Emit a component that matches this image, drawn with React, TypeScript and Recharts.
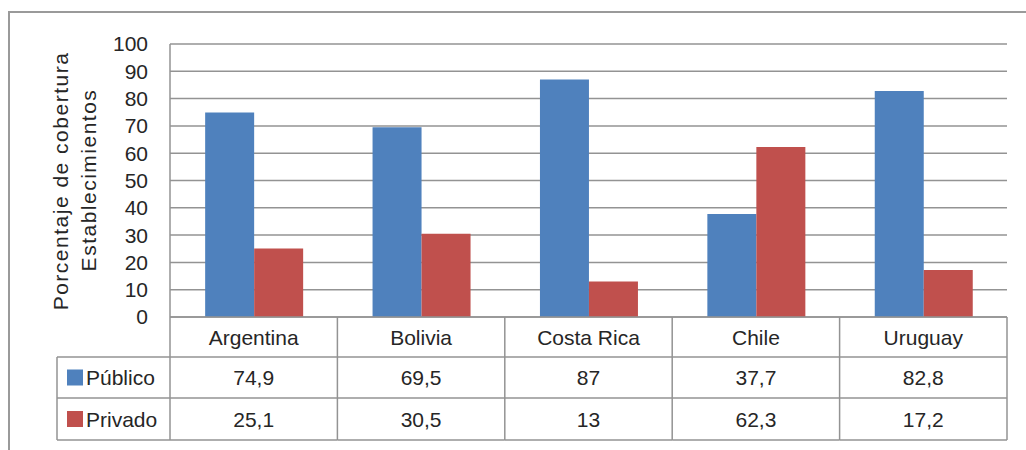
import React from "react";
import { BarChart, Bar, XAxis, YAxis, CartesianGrid } from "recharts";

const categories = ["Argentina", "Bolivia", "Costa Rica", "Chile", "Uruguay"];
const publico = [74.9, 69.5, 87, 37.7, 82.8];
const privado = [25.1, 30.5, 13, 62.3, 17.2];
const yTicks = [0, 10, 20, 30, 40, 50, 60, 70, 80, 90, 100];

const BLUE = "#4F81BD";
const RED = "#C0504D";
const LINE = "#939393";
const TEXT = "#262626";
const FONT = "'Liberation Sans', Arial, sans-serif";
const FS = 21;

const W = 1026;
const H = 450;
const PLOT_LEFT = 170;
const PLOT_RIGHT = 1007;
const COL_W = (PLOT_RIGHT - PLOT_LEFT) / categories.length;
const ROW = [0, 40, 81, 123];

const data = categories.map((name, i) => ({ name, publico: publico[i], privado: privado[i] }));

const fmt = (v: number) => String(v).replace(".", ",");

function TableTick(props: any) {
  const { x, y, index, payload } = props;
  const left = x - COL_W / 2;
  const right = x + COL_W / 2;
  const mid = (a: number, b: number) => y + (ROW[a] + ROW[b]) / 2;
  const textProps = {
    fontSize: FS,
    fontFamily: FONT,
    fill: TEXT,
    textAnchor: "middle" as const,
    dominantBaseline: "central" as const,
  };
  return (
    <g>
      <line x1={right} y1={y} x2={right} y2={y + ROW[3]} stroke={LINE} strokeWidth={1.5} />
      {[1, 2, 3].map((r) => (
        <line key={r} x1={left} y1={y + ROW[r]} x2={right} y2={y + ROW[r]} stroke={LINE} strokeWidth={1.5} />
      ))}
      <text x={x} y={mid(0, 1)} {...textProps}>{payload.value}</text>
      <text x={x} y={mid(1, 2)} {...textProps}>{fmt(publico[index])}</text>
      <text x={x} y={mid(2, 3)} {...textProps}>{fmt(privado[index])}</text>
      {index === 0 && (
        <g>
          <line x1={left} y1={y} x2={left} y2={y + ROW[3]} stroke={LINE} strokeWidth={1.5} />
          <line x1={57} y1={y + ROW[1]} x2={left} y2={y + ROW[1]} stroke={LINE} strokeWidth={1.5} />
          <line x1={57} y1={y + ROW[2]} x2={left} y2={y + ROW[2]} stroke={LINE} strokeWidth={1.5} />
          <line x1={57} y1={y + ROW[3]} x2={left} y2={y + ROW[3]} stroke={LINE} strokeWidth={1.5} />
          <line x1={57} y1={y + ROW[1]} x2={57} y2={y + ROW[3]} stroke={LINE} strokeWidth={1.5} />
          <rect x={67} y={mid(1, 2) - 8} width={16} height={16} fill={BLUE} />
          <rect x={67} y={mid(2, 3) - 8} width={16} height={16} fill={RED} />
          <text {...textProps} textAnchor="start" x={86} y={mid(1, 2)}>Público</text>
          <text {...textProps} textAnchor="start" x={86} y={mid(2, 3)}>Privado</text>
        </g>
      )}
    </g>
  );
}

function AxisTitle() {
  const common = {
    fontSize: FS,
    fontFamily: FONT,
    fill: TEXT,
    textAnchor: "middle" as const,
    dominantBaseline: "central" as const,
  };
  return (
    <g>
      <text x={60} y={181} transform="rotate(-90 60 181)" letterSpacing={1.5} {...common}>
        Porcentaje de cobertura
      </text>
      <text x={88} y={180} transform="rotate(-90 88 180)" letterSpacing={1.5} {...common}>
        Establecimientos
      </text>
    </g>
  );
}

export default function App() {
  return (
    <div style={{ position: "absolute", left: 0, top: 0, width: W, height: H, background: "#fff", overflow: "hidden" }}>
      <div
        style={{
          position: "absolute",
          left: 8,
          top: 11,
          width: W + 20,
          height: H + 20,
          border: "2px solid #9a9a9a",
          boxSizing: "border-box",
        }}
      />
      <div style={{ position: "absolute", left: 0, top: 0 }}>
        <BarChart
          width={W}
          height={H}
          data={data}
          margin={{ top: 44, right: W - PLOT_RIGHT, left: 110, bottom: 10 }}
          barCategoryGap="21%"
          barGap={0}
        >
          <CartesianGrid horizontal vertical={false} stroke={LINE} strokeWidth={1.5} />
          <YAxis
            domain={[0, 100]}
            ticks={yTicks}
            interval={0}
            width={60}
            axisLine={{ stroke: LINE, strokeWidth: 1.5 }}
            tickLine={false}
            tickMargin={16}
            tick={{ fontSize: FS, fontFamily: FONT, fill: TEXT }}
            label={{ content: () => <AxisTitle /> }}
          />
          <XAxis
            dataKey="name"
            interval={0}
            height={123}
            axisLine={{ stroke: LINE, strokeWidth: 1.5 }}
            tickLine={false}
            tickSize={0}
            tickMargin={0}
            tick={<TableTick />}
          />
          <Bar dataKey="publico" fill={BLUE} isAnimationActive={false} />
          <Bar dataKey="privado" fill={RED} isAnimationActive={false} />
        </BarChart>
      </div>
    </div>
  );
}
